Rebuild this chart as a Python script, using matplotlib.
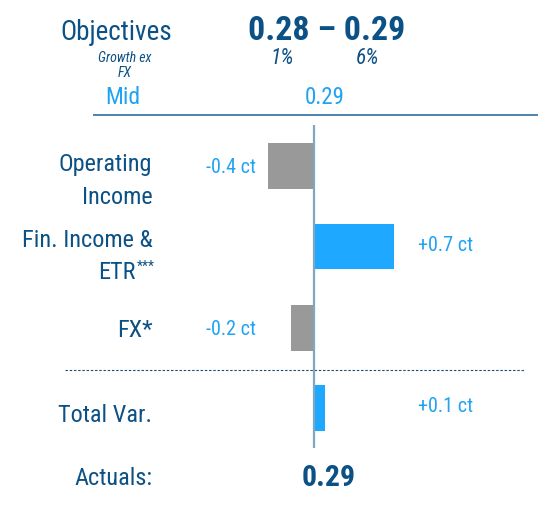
import matplotlib
matplotlib.use("Agg")
import matplotlib.pyplot as plt
from matplotlib import font_manager as fm

# ---------------- data ----------------
categories = ["Operating\nIncome", "Fin. Income &\nETR", "FX*", "Total Var."]
values = [-0.4, 0.7, -0.2, 0.1]
value_labels = ["-0.4 ct", "+0.7 ct", "-0.2 ct", "+0.1 ct"]
objective_range = "0.28 \u2013 0.29"
growth_low, growth_high = "1%", "6%"
mid_value = "0.29"
actual_value = "0.29"

# ---------------- fonts ----------------
names = {f.name for f in fm.fontManager.ttflist}
FAM, K = "Liberation Sans", 0.86
for cand in ["Roboto Condensed", "Archivo Narrow", "Pragati Narrow"]:
    if cand in names:
        FAM, K = cand, 1.0
        break
plt.rcParams["font.family"] = [FAM, "DejaVu Sans"]

DARK = "#0c5185"
LIGHT = "#1fa3f2"
BLUE_BAR = "#1ea8ff"
GRAY_BAR = "#999999"

W, H = 538, 522
fig = plt.figure(figsize=(W / 100, H / 100), dpi=100)
ax = fig.add_axes([0, 0, 1, 1])
ax.axis("off")
X0, PPU = 313.7, 114.5          # pixel of zero, pixels per cent
ax.set_xlim(-X0 / PPU, (W - X0) / PPU)
ax.set_ylim(H, 0)


def dx(px):
    return (px - X0) / PPU


# ---------------- bars ----------------
y_centers = [165.8, 246.7, 328.0, 408.2]
bar_h = 45.5
colors = [BLUE_BAR if v > 0 else GRAY_BAR for v in values]
ax.barh(y_centers, values, height=bar_h, color=colors, zorder=2)

# zero line
ax.plot([0, 0], [125, 448], color="#7ea7c3", lw=1.6, zorder=3,
        solid_capstyle="butt")
# header rule
ax.plot([dx(93), dx(538)], [114.8, 114.8], color="#3f7aa6", lw=1.3,
        solid_capstyle="butt")
# dashed separator
ax.plot([dx(65), dx(524)], [369.7, 369.7], color="#1e4c70", lw=0.8,
        linestyle=(0, (2.2, 1.6)))

# ---------------- value labels ----------------
VFS = 14.5 * K
for v, lab, yc in zip(values, value_labels, y_centers):
    if v < 0:
        ax.text(dx(256), yc + 1.5, lab, ha="right", va="center",
                color=LIGHT, fontsize=VFS)
    else:
        ax.text(dx(418), yc - 1.5, lab, ha="left", va="center",
                color=LIGHT, fontsize=VFS)

# ---------------- category labels ----------------
LAB_X = dx(152.5)
LFS = 17.5 * K
label_baselines = [[170.5, 203.5], [246.7, 279.0], [337.0], [421.7]]
for cat, bls in zip(categories, label_baselines):
    lines = cat.split("\n")
    for line, bl in zip(lines, bls):
        if line == "ETR":
            t = ax.text(dx(136.0), bl, line, ha="right", va="baseline",
                        color=DARK, fontsize=LFS)
            ax.annotate("***", xy=(1, 1), xycoords=t, xytext=(0.5, 0.5),
                        textcoords="offset points", ha="left", va="top",
                        color=DARK, fontsize=10 * K)
        else:
            ax.text(LAB_X, bl, line, ha="right", va="baseline",
                    color=DARK, fontsize=LFS)

ax.text(LAB_X, 485.0, "Actuals:", ha="right", va="baseline", color=DARK,
        fontsize=LFS)
ax.text(dx(328.5), 486.5, actual_value, ha="center", va="baseline",
        color=DARK, fontsize=21.5 * K, fontweight="bold")

# ---------------- header ----------------
ax.text(dx(116), 39.5, "Objectives", ha="center", va="baseline", color=DARK,
        fontsize=19.5 * K)
ax.text(dx(124.5), 61.7, "Growth ex", ha="center", va="baseline", color=DARK,
        fontsize=10 * K, style="italic")
ax.text(dx(124.5), 76.7, "FX", ha="center", va="baseline", color=DARK,
        fontsize=10 * K, style="italic")
ax.text(dx(327), 39.5, objective_range, ha="center", va="baseline",
        color=DARK, fontsize=24.5 * K, fontweight="bold")
ax.text(dx(282), 63.5, growth_low, ha="center", va="baseline", color=DARK,
        fontsize=15.5 * K, style="italic")
ax.text(dx(367.5), 63.5, growth_high, ha="center", va="baseline", color=DARK,
        fontsize=15.5 * K, style="italic")
ax.text(dx(123), 104.5, "Mid", ha="center", va="baseline", color=LIGHT,
        fontsize=17 * K)
ax.text(dx(324.5), 104.5, mid_value, ha="center", va="baseline", color=LIGHT,
        fontsize=16.5 * K)

fig.savefig("out.png", dpi=100)
